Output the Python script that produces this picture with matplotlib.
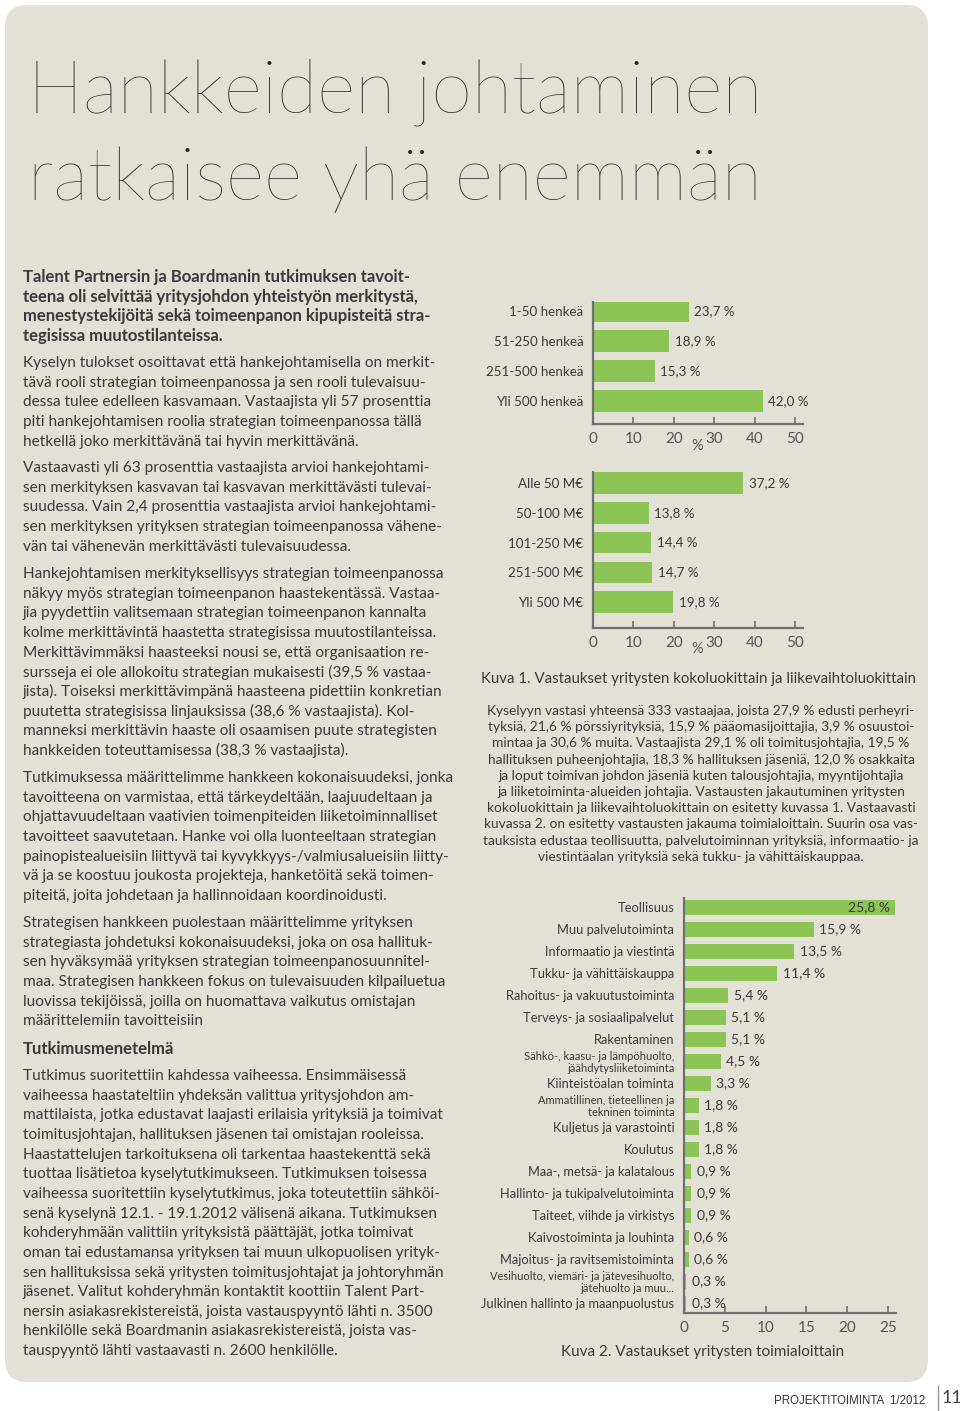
import matplotlib
matplotlib.use('Agg')
import matplotlib.pyplot as plt
from matplotlib.patches import FancyBboxPatch
from matplotlib.transforms import IdentityTransform
from matplotlib.lines import Line2D

# --- data -------------------------------------------------------------
size_labels = ['1-50 henkeä', '51-250 henkeä', '251-500 henkeä', 'Yli 500 henkeä']
size_values = [23.7, 18.9, 15.3, 42.0]

revenue_labels = ['Alle 50 M€', '50-100 M€', '101-250 M€', '251-500 M€', 'Yli 500 M€']
revenue_values = [37.2, 13.8, 14.4, 14.7, 19.8]

industry_labels = ['Teollisuus', 'Muu palvelutoiminta', 'Informaatio ja viestintä',
                   'Tukku- ja vähittäiskauppa', 'Rahoitus- ja vakuutustoiminta',
                   'Terveys- ja sosiaalipalvelut', 'Rakentaminen',
                   'Sähkö-, kaasu- ja lämpöhuolto,\njäähdytysliiketoiminta',
                   'Kiinteistöalan toiminta', 'Ammatillinen, tieteellinen ja\ntekninen toiminta',
                   'Kuljetus ja varastointi', 'Koulutus', 'Maa-, metsä- ja kalatalous',
                   'Hallinto- ja tukipalvelutoiminta', 'Taiteet, viihde ja virkistys',
                   'Kaivostoiminta ja louhinta', 'Majoitus- ja ravitsemistoiminta',
                   'Vesihuolto, viemäri- ja jätevesihuolto,\njätehuolto ja muu...',
                   'Julkinen hallinto ja maanpuolustus']
industry_values = [25.8, 15.9, 13.5, 11.4, 5.4, 5.1, 5.1, 4.5, 3.3, 1.8, 1.8, 1.8,
                   0.9, 0.9, 0.9, 0.6, 0.6, 0.3, 0.3]

title_lines = ['Hankkeiden johtaminen', 'ratkaisee yhä enemmän']

intro_lines = ['Talent Partnersin ja Boardmanin tutkimuksen tavoit-',
               'teena oli selvittää yritysjohdon yhteistyön merkitystä,',
               'menestystekijöitä sekä toimeenpanon kipupisteitä stra-',
               'tegisissa muutostilanteissa.']
p1 = ['Kyselyn tulokset osoittavat että hankejohtamisella on merkit-',
      'tävä rooli strategian toimeenpanossa ja sen rooli tulevaisuu-',
      'dessa tulee edelleen kasvamaan. Vastaajista yli 57 prosenttia',
      'piti hankejohtamisen roolia strategian toimeenpanossa tällä',
      'hetkellä joko merkittävänä tai hyvin merkittävänä.']
p2 = ['Vastaavasti yli 63 prosenttia vastaajista arvioi hankejohtami-',
      'sen merkityksen kasvavan tai kasvavan merkittävästi tulevai-',
      'suudessa. Vain 2,4 prosenttia vastaajista arvioi hankejohtami-',
      'sen merkityksen yrityksen strategian toimeenpanossa vähene-',
      'vän tai vähenevän merkittävästi tulevaisuudessa.']
p3 = ['Hankejohtamisen merkityksellisyys strategian toimeenpanossa',
      'näkyy myös strategian toimeenpanon haastekentässä. Vastaa-',
      'jia pyydettiin valitsemaan strategian toimeenpanon kannalta',
      'kolme merkittävintä haastetta strategisissa muutostilanteissa.',
      'Merkittävimmäksi haasteeksi nousi se, että organisaation re-',
      'sursseja ei ole allokoitu strategian mukaisesti (39,5 % vastaa-',
      'jista). Toiseksi merkittävimpänä haasteena pidettiin konkretian',
      'puutetta strategisissa linjauksissa (38,6 % vastaajista). Kol-',
      'manneksi merkittävin haaste oli osaamisen puute strategisten',
      'hankkeiden toteuttamisessa (38,3 % vastaajista).']
p4 = ['Tutkimuksessa määrittelimme hankkeen kokonaisuudeksi, jonka',
      'tavoitteena on varmistaa, että tärkeydeltään, laajuudeltaan ja',
      'ohjattavuudeltaan vaativien toimenpiteiden liiketoiminnalliset',
      'tavoitteet saavutetaan. Hanke voi olla luonteeltaan strategian',
      'painopistealueisiin liittyvä tai kyvykkyys-/valmiusalueisiin liitty-',
      'vä ja se koostuu joukosta projekteja, hanketöitä sekä toimen-',
      'piteitä, joita johdetaan ja hallinnoidaan koordinoidusti.']
p5 = ['Strategisen hankkeen puolestaan määrittelimme yrityksen',
      'strategiasta johdetuksi kokonaisuudeksi, joka on osa hallituk-',
      'sen hyväksymää yrityksen strategian toimeenpanosuunnitel-',
      'maa. Strategisen hankkeen fokus on tulevaisuuden kilpailuetua',
      'luovissa tekijöissä, joilla on huomattava vaikutus omistajan',
      'määrittelemiin tavoitteisiin']
p6 = ['Tutkimus suoritettiin kahdessa vaiheessa. Ensimmäisessä',
      'vaiheessa haastateltiin yhdeksän valittua yritysjohdon am-',
      'mattilaista, jotka edustavat laajasti erilaisia yrityksiä ja toimivat',
      'toimitusjohtajan, hallituksen jäsenen tai omistajan rooleissa.',
      'Haastattelujen tarkoituksena oli tarkentaa haastekenttä sekä',
      'tuottaa lisätietoa kyselytutkimukseen. Tutkimuksen toisessa',
      'vaiheessa suoritettiin kyselytutkimus, joka toteutettiin sähköi-',
      'senä kyselynä 12.1. - 19.1.2012 välisenä aikana. Tutkimuksen',
      'kohderyhmään valittiin yrityksistä päättäjät, jotka toimivat',
      'oman tai edustamansa yrityksen tai muun ulkopuolisen yrityk-',
      'sen hallituksissa sekä yritysten toimitusjohtajat ja johtoryhmän',
      'jäsenet. Valitut kohderyhmän kontaktit koottiin Talent Part-',
      'nersin asiakasrekistereistä, joista vastauspyyntö lähti n. 3500',
      'henkilölle sekä Boardmanin asiakasrekistereistä, joista vas-',
      'tauspyyntö lähti vastaavasti n. 2600 henkilölle.']
right_lines = ['Kyselyyn vastasi yhteensä 333 vastaajaa, joista 27,9 % edusti perheyri-',
               'tyksiä, 21,6 % pörssiyrityksiä, 15,9 % pääomasijoittajia, 3,9 % osuustoi-',
               'mintaa ja 30,6 % muita. Vastaajista 29,1 % oli toimitusjohtajia, 19,5 %',
               'hallituksen puheenjohtajia, 18,3 % hallituksen jäseniä, 12,0 % osakkaita',
               'ja loput toimivan johdon jäseniä kuten talousjohtajia, myyntijohtajia',
               'ja liiketoiminta-alueiden johtajia. Vastausten jakautuminen yritysten',
               'kokoluokittain ja liikevaihtoluokittain on esitetty kuvassa 1. Vastaavasti',
               'kuvassa 2. on esitetty vastausten jakauma toimialoittain. Suurin osa vas-',
               'tauksista edustaa teollisuutta, palvelutoiminnan yrityksiä, informaatio- ja',
               'viestintäalan yrityksiä sekä tukku- ja vähittäiskauppaa.']

# --- style ------------------------------------------------------------
W, H = 960, 1411
PAGE = '#e3e0d6'
GREEN = '#8cc455'
TXT = '#3a3a3a'
AXC = '#707070'
FONT = ['Lato', 'DejaVu Sans']
plt.rcParams['font.family'] = FONT

fig = plt.figure(figsize=(W / 100, H / 100), dpi=100)
fig.patch.set_facecolor('white')

def fx(x):
    return x / W

def fy(y):
    return 1 - y / H

# page panel with rounded corners (pixel coords)
fig.patches.append(FancyBboxPatch((5, H - 1382), 923, 1377,
                                  boxstyle='round,pad=0,rounding_size=22',
                                  fc=PAGE, ec='none', transform=IdentityTransform(),
                                  figure=fig, zorder=-5))

# title
for s, y in zip(title_lines, [92, 180]):
    fig.text(fx(28), fy(y), s, fontsize=53, fontweight='light', color='#262626',
             va='center', ha='left')

DY = 19.65

def block(lines, y0, bold=False):
    for i, s in enumerate(lines):
        fig.text(fx(23), fy(y0 + i * DY), s, fontsize=12.0 if bold else 11.1, color=TXT,
                 fontweight='bold' if bold else 'normal', va='center', ha='left')

block(intro_lines, 277, bold=True)
block(p1, 363)
block(p2, 468)
block(p3, 574)
block(p4, 778)
block(p5, 923)
block(['Tutkimusmenetelmä'], 1049, bold=True)
block(p6, 1076)

for i, s in enumerate(right_lines):
    fig.text(fx(701), fy(711 + i * 16.2), s, fontsize=9.9, color=TXT,
             va='center', ha='center')


def fmt(v):
    return ('%.1f' % v).replace('.', ',') + ' %'


def bar_axes(left, top, right, bottom):
    return fig.add_axes([fx(left), fy(bottom), (right - left) / W, (bottom - top) / H])


def style(ax, xticks, label_fs, tick_fs):
    ax.set_facecolor('none')
    for sp in ['top', 'right']:
        ax.spines[sp].set_visible(False)
    for sp in ['left', 'bottom']:
        ax.spines[sp].set_color(AXC)
        ax.spines[sp].set_linewidth(1.6)
    ax.set_xticks(xticks)
    ax.tick_params(axis='x', direction='in', length=5, width=1.2, color=AXC,
                   labelsize=tick_fs, labelcolor='#555555', pad=6)
    ax.tick_params(axis='y', length=0, labelsize=label_fs, labelcolor=TXT, pad=7)


# chart 1: company size
ax1 = bar_axes(593, 302, 593 + 52 * 4.04, 424)
pos = list(range(len(size_values)))
ax1.barh(pos, size_values, height=0.72, color=GREEN, zorder=2)
ax1.set_yticks(pos)
ax1.set_yticklabels(size_labels)
ax1.set_xlim(0, 52)
ax1.set_ylim(3.77, -0.31)
style(ax1, [0, 10, 20, 30, 40, 50], 9.6, 11)
for p, v in zip(pos, size_values):
    ax1.annotate(fmt(v), (v, p), xytext=(4, 0), textcoords='offset points',
                 va='center', ha='left', fontsize=9.6, color=TXT)
fig.text(fx(697), fy(446), '%', fontsize=10.5, color='#555555', ha='center', va='center')

# chart 2: revenue
ax2 = bar_axes(593, 472, 593 + 52 * 4.04, 628)
pos = list(range(len(revenue_values)))
ax2.barh(pos, revenue_values, height=0.72, color=GREEN, zorder=2)
ax2.set_yticks(pos)
ax2.set_yticklabels(revenue_labels)
ax2.set_xlim(0, 52)
ax2.set_ylim(4.87, -0.37)
style(ax2, [0, 10, 20, 30, 40, 50], 9.6, 11)
for p, v in zip(pos, revenue_values):
    ax2.annotate(fmt(v), (v, p), xytext=(4, 0), textcoords='offset points',
                 va='center', ha='left', fontsize=9.6, color=TXT)
fig.text(fx(697), fy(649), '%', fontsize=10.5, color='#555555', ha='center', va='center')

fig.text(fx(481), fy(679), 'Kuva 1. Vastaukset yritysten kokoluokittain ja liikevaihtoluokittain',
         fontsize=10.85, color=TXT, ha='left', va='center')

# chart 3: industries
ax3 = bar_axes(684, 898, 684 + 26 * 8.16, 1313)
pos = list(range(len(industry_values)))
ax3.barh(pos, industry_values, height=0.68, color=GREEN, zorder=2)
ax3.set_yticks(pos)
ax3.set_yticklabels(industry_labels)
ax3.set_xlim(0, 26)
ax3.set_ylim(18.45, -0.41)
style(ax3, [0, 5, 10, 15, 20, 25], 9.3, 11)
ax3.tick_params(axis='y', pad=7)
for t in ax3.get_yticklabels():
    if '\n' in t.get_text():
        t.set_fontsize(8.0)
        t.set_linespacing(1.12)
vmax = max(industry_values)
for p, v in zip(pos, industry_values):
    if v == vmax:
        ax3.annotate(fmt(v), (v, p), xytext=(-3, 0), textcoords='offset points',
                     va='center', ha='right', fontsize=10, color=TXT)
    else:
        ax3.annotate(fmt(v), (v, p), xytext=(4, 0), textcoords='offset points',
                     va='center', ha='left', fontsize=10, color=TXT)

fig.text(fx(703), fy(1352), 'Kuva 2. Vastaukset yritysten toimialoittain',
         fontsize=11, color=TXT, ha='center', va='center')

# footer
fig.text(fx(925), fy(1401), 'PROJEKTITOIMINTA  1/2012', fontsize=8.3,
         family=['Liberation Sans', 'DejaVu Sans'], color='#333333', ha='right', va='center')
fig.lines.append(Line2D([fx(938), fx(938)], [fy(1386), fy(1411)], transform=fig.transFigure,
                        color='#999999', lw=1))
fig.text(fx(952), fy(1398), '11', fontsize=13, color='#444444',
         ha='center', va='center')

fig.savefig('out.png', dpi=100, facecolor='white')
